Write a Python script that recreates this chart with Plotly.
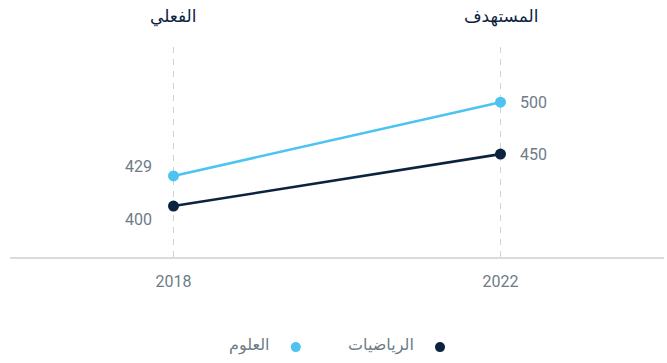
import plotly.graph_objects as go

# Data
years = [2018, 2022]
science = [429, 500]        # العلوم
math = [400, 450]           # الرياضيات
column_titles = ["الفعلي", "المستهدف"]
series_names = ["العلوم", "الرياضيات"]

DARK = "#0c2340"
LIGHT = "#4dc3f2"
GRAY = "#6d7c87"
FONT = "Roboto, DejaVu Sans, sans-serif"

fig = go.Figure()

for name, vals, color in [(series_names[0], science, LIGHT), (series_names[1], math, DARK)]:
    fig.add_trace(go.Scatter(
        x=years, y=vals, mode="lines+markers", name=name,
        line=dict(color=color, width=2.6),
        marker=dict(color=color, size=11),
        hoverinfo="skip", showlegend=False,
    ))

# Vertical dashed guides at each year
for yr in years:
    fig.add_shape(type="line", x0=yr, x1=yr, y0=0, y1=1, xref="x", yref="paper",
                  line=dict(color="#cfd3d6", width=1, dash="6px,6px"), layer="below")

# Value labels: left of the 2018 points, right of the 2022 points
left_shift = {science[0]: 9, math[0]: -13}
for vals in (science, math):
    fig.add_annotation(x=years[0], y=vals[0], text=str(vals[0]), showarrow=False,
                       xanchor="right", xshift=-20, yshift=left_shift[vals[0]],
                       font=dict(family=FONT, size=16, color=GRAY))
    fig.add_annotation(x=years[1], y=vals[1], text=str(vals[1]), showarrow=False,
                       xanchor="left", xshift=17,
                       font=dict(family=FONT, size=16, color=GRAY))

# Column headers
for yr, title in zip(years, column_titles):
    fig.add_annotation(x=yr, y=1, yref="paper", yanchor="bottom", yshift=16,
                       text=title, showarrow=False,
                       font=dict(family=FONT, size=17, color=DARK))

# Right-to-left legend: marker on the right of each label
legend_items = [(series_names[1], DARK, 0.6575), (series_names[0], LIGHT, 0.437)]
for name, color, px in legend_items:
    fig.add_shape(type="circle", xref="paper", yref="paper",
                  xsizemode="pixel", ysizemode="pixel",
                  xanchor=px, yanchor=-0.425,
                  x0=-5, x1=5, y0=-5, y1=5,
                  fillcolor=color, line=dict(width=0))
    fig.add_annotation(x=px, y=-0.425, xref="paper", yref="paper",
                       xanchor="right", xshift=-24, yshift=-10, text=name, showarrow=False,
                       font=dict(family=FONT, size=16, color=GRAY))

fig.update_layout(
    width=667, height=363,
    margin=dict(l=10, r=3, t=45, b=106),
    paper_bgcolor="white", plot_bgcolor="white",
    xaxis=dict(range=[2016, 2024], tickvals=years, ticktext=[str(y) for y in years],
               showgrid=False, zeroline=False, showline=True, linecolor="#d9dcde",
               linewidth=1.5, ticks="", ticklabelstandoff=9,
               tickfont=dict(family=FONT, size=16, color=GRAY)),
    yaxis=dict(range=[351, 555], showgrid=False, zeroline=False, showline=False,
               showticklabels=False),
)

fig.write_html("out.html")
